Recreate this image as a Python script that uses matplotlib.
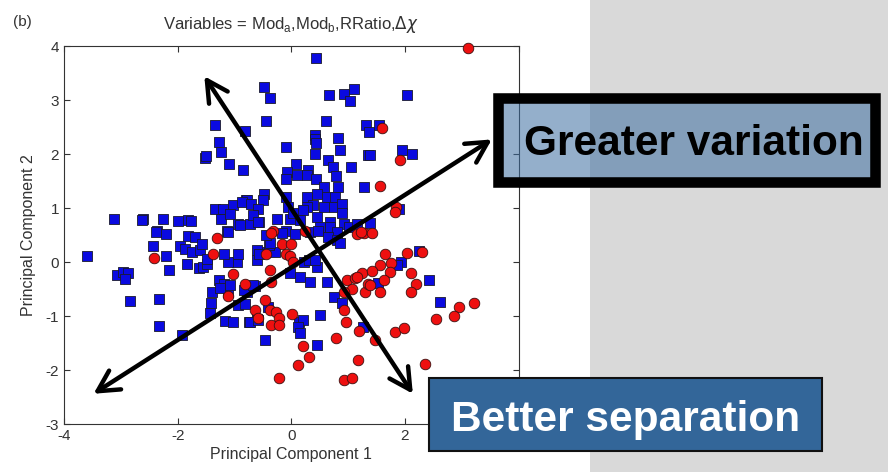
import matplotlib
matplotlib.use("Agg")
import matplotlib.pyplot as plt
from matplotlib.patches import Rectangle

plt.rcParams['font.family'] = ['Liberation Sans', 'DejaVu Sans']
plt.rcParams['axes.unicode_minus'] = False

# principal component scores, group 1 (squares)
pc1_blue = [-0.48, -0.38, -0.45, -1.35, -0.81, -1.27, -1.24, -1.51, -1.50, -1.10,
            -0.85, -0.09, 0.09, -0.08, -0.10, -0.48, -0.50, -0.80, -0.09, -0.06,
            -3.12, -2.61, -2.63, -2.26, -1.99, -1.81, -1.77, -1.35, -1.20, -1.02,
            -0.78, -1.24, -1.08, -0.93, -0.72, -0.56, -0.25, -0.03, -2.37, -2.20,
            -1.13, 0.44, 0.66, 0.92, 1.11, 1.04, 0.61, 1.32, 1.36, 1.54,
            0.41, 0.42, 0.44, 0.82, 0.86, 0.41, 1.35, 0.64, 0.73, 1.06,
            0.29, 0.28, 0.44, 0.79, 0.82, 0.58, 1.28, 0.11, 0.28, 0.45,
            0.63, 0.77, 0.39, 0.57, 0.28, 0.75, 0.89, 0.03, 0.21, 0.15,
            0.45, 0.51, 0.69, 0.89, 0.92, -0.87, -0.70, -0.59, -0.68, -0.59,
            -0.90, -1.11, -0.09, 0.06, 0.33, 0.69, 0.81, 1.01, 1.16, 2.04,
            1.39, 1.95, 2.13, 1.89, 1.39, -3.60, -3.07, -2.96, -2.87, -2.93,
            -2.84, -2.33, -2.33, -1.93, -2.44, -2.20, -2.15, -2.38, -1.81, -1.70,
            -1.96, -1.87, -1.75, -1.61, -1.84, -1.63, -1.55, -1.49, -1.57, -1.49,
            -1.27, -1.40, -1.42, -1.43, -1.11, -0.93, -0.81, -0.78, -0.64, -1.17,
            -1.02, -0.75, -0.61, -0.47, -0.61, -0.47, -0.29, -0.96, -1.11, -1.19,
            -0.93, -0.61, -0.56, -0.40, -0.38, -0.03, 0.15, 0.33, 0.63, 0.23,
            0.32, 0.45, 0.42, 0.51, 0.14, 0.21, 0.12, 0.15, 0.46, 0.76,
            0.89, 1.27, -0.84, -0.67, -0.73, -0.58, -0.41, 1.93, 1.86, 2.25,
            2.42, 1.52, 2.61, -0.44, -0.17, 0.47, 0.65, 0.80, 0.86, -1.19,
            -1.08, -1.26]
pc2_blue = [3.24, 3.04, 2.62, 2.54, 2.43, 2.22, 2.03, 1.92, 1.96, 1.81,
            1.70, 2.13, 1.81, 1.67, 1.53, 1.26, 1.14, 1.15, 1.21, 1.02,
            0.80, 0.80, 0.77, 0.79, 0.76, 0.77, 0.76, 0.99, 0.99, 1.05,
            1.14, 0.80, 0.89, 0.71, 0.70, 0.74, 0.80, 0.80, 0.58, 0.52,
            0.58, 3.77, 3.09, 3.11, 3.20, 2.99, 2.62, 2.53, 2.41, 2.54,
            2.35, 2.27, 2.20, 2.29, 2.08, 2.00, 1.98, 1.89, 1.76, 1.76,
            1.71, 1.61, 1.54, 1.59, 1.39, 1.39, 1.39, 1.62, 1.21, 1.26,
            1.20, 1.20, 1.05, 1.02, 1.02, 1.02, 1.08, 0.90, 0.96, 0.77,
            0.83, 0.65, 0.74, 0.90, 0.71, 1.11, 1.08, 0.99, 0.87, 0.74,
            0.68, 0.55, 0.58, 0.52, 0.55, 0.65, 0.55, 0.65, 0.71, 3.09,
            1.98, 2.08, 2.00, 0.99, 0.73, 0.12, -0.24, -0.18, -0.20, -0.32,
            -0.72, -0.69, -1.19, -1.35, 0.29, 0.12, -0.14, 0.55, 0.49, 0.46,
            0.29, 0.25, 0.18, 0.22, -0.03, -0.12, -0.09, -0.03, 0.34, 0.06,
            -0.34, -0.55, -0.76, -0.95, -0.55, -0.80, -0.77, -0.55, -0.45, -1.09,
            -1.12, -1.11, -1.06, -1.45, 0.03, 0.18, 0.18, 0.00, 0.00, 0.15,
            0.14, 0.22, 0.14, 0.31, 0.36, -0.21, -0.28, -0.37, -0.37, 0.00,
            0.03, -0.09, 0.04, -0.99, -1.11, -1.08, -1.20, -1.31, -1.54, -0.64,
            -0.76, -1.20, -0.52, -0.43, -1.11, -1.08, -0.83, 0.00, -0.06, 0.20,
            -0.34, -0.39, -0.74, 0.50, 0.53, 0.58, 0.46, 0.40, 0.36, -0.40,
            -0.43, -0.49]

# principal component scores, group 2 (circles)
pc1_red = [-0.32, -1.31, -2.41, -1.37, -1.02, -1.11, -0.81, -0.47, -0.38, -0.35,
           -0.63, -0.59, -0.38, -0.26, -0.21, -0.35, -0.22, 0.01, -0.21, 0.12,
           -0.45, -0.17, 0.00, -0.09, 0.20, 0.31, 0.78, 1.17, 0.93, 1.07,
           0.96, 1.20, 0.92, 0.98, 1.07, 0.92, 1.13, 1.25, 1.29, 1.35,
           -0.03, 0.03, -0.35, 1.16, 1.28, 0.25, 1.22, 3.11, 1.60, 1.91,
           1.57, 1.85, 1.82, 1.42, 1.65, 2.03, 2.31, 1.75, 1.56, 1.73,
           1.42, 2.10, 1.63, 1.38, 2.19, 1.57, 2.10, 3.22, 2.96, 2.86,
           2.54, 1.82, 1.98, 1.48, 2.36, 1.16]
pc2_red = [0.58, 0.45, 0.08, 0.14, -0.23, -0.63, -0.41, -0.71, -0.14, -0.37,
           -0.89, -1.04, -0.88, -0.92, -1.03, -1.17, -1.17, -0.96, -2.15, -1.91,
           0.14, 0.34, 0.34, 0.15, -1.55, -1.76, -1.41, -1.82, -2.18, -2.15,
           -1.11, -1.27, -0.89, -0.34, -0.50, -0.55, -0.29, -0.20, -0.55, -0.40,
           0.12, 0.00, 0.54, 0.52, 0.53, 0.58, 0.55, 3.96, 2.49, 1.89,
           1.41, 1.02, 0.92, 0.53, 0.14, 0.17, 0.18, -0.02, -0.06, -0.18,
           -0.16, -0.21, -0.34, -0.43, -0.40, -0.55, -0.55, -0.76, -0.84, -1.00,
           -1.06, -1.29, -1.23, -1.44, -1.89, -0.28]

x_ticks = [-4, -2, 0, 2, 4]
x_ticklabels = ['-4', '-2', '0', '2', '']   # the 4 sits under the label box
y_ticks = [-3, -2, -1, 0, 1, 2, 3, 4]

W, H = 888, 472


def fx(px):
    return px / W


def fy(py):
    return 1 - py / H


fig = plt.figure(figsize=(8.88, 4.72), dpi=100)

# grey side panel
fig.patches.append(Rectangle((fx(590), 0), 1 - fx(590), 1, transform=fig.transFigure,
                             facecolor='#d9d9d9', edgecolor='none', zorder=-5))

ax = fig.add_axes([fx(64), fy(424), fx(518.5) - fx(64), fy(46) - fy(424)])
ax.scatter(pc1_blue, pc2_blue, marker='s', s=62, color='#0a0ae0',
           edgecolors='#1a1a2a', linewidths=0.6, zorder=2)
ax.scatter(pc1_red, pc2_red, marker='o', s=58, color='#ee1010',
           edgecolors='#3a1010', linewidths=0.6, zorder=3, clip_on=False)

ax.set_xlim(-4, 4)
ax.set_ylim(-3, 4)
ax.set_xticks(x_ticks)
ax.set_xticklabels(x_ticklabels)
ax.set_yticks(y_ticks)
ax.tick_params(direction='in', top=True, right=True, length=4, labelsize=11,
               colors='#333333', width=0.8)
for sp in ax.spines.values():
    sp.set_color('#333333')
    sp.set_linewidth(0.8)

ax.set_xlabel('Principal Component 1', fontsize=11.5, color='#333333', labelpad=3)
ax.set_ylabel('Principal Component 2', fontsize=11.5, color='#333333', labelpad=7)
ax.set_title(r'Variables = Mod$_{\mathregular{a}}$,Mod$_{\mathregular{b}}$,RRatio,$\Delta\chi$',
             fontsize=12, color='#333333', pad=12)
fig.text(fx(13), fy(22), '(b)', fontsize=11, color='#333333', va='center')

# double-headed arrows
arrow_kw = dict(arrowstyle='<->,head_length=0.75,head_width=0.4', lw=3.2,
                color='black', shrinkA=0, shrinkB=0, mutation_scale=20)
ax.annotate('', xy=(3.53, 2.27), xytext=(-3.48, -2.44), arrowprops=arrow_kw,
            annotation_clip=False)
ax.annotate('', xy=(2.14, -2.44), xytext=(-1.53, 3.44), arrowprops=arrow_kw,
            annotation_clip=False)

# label boxes
fig.patches.append(Rectangle((fx(497.5), fy(181.5)), fx(875) - fx(497.5), fy(97.5) - fy(181.5),
                             transform=fig.transFigure, facecolor=(0.24, 0.43, 0.63, 0.55),
                             edgecolor='black', linewidth=7.6, zorder=5))
fig.text(fx(694), fy(155), 'Greater variation', fontsize=30.5, fontweight='bold',
         color='black', ha='center', va='baseline', zorder=6)

fig.patches.append(Rectangle((fx(429), fy(451)), fx(822) - fx(429), fy(378) - fy(451),
                             transform=fig.transFigure, facecolor='#336699',
                             edgecolor='#111111', linewidth=1.5, zorder=5))
fig.text(fx(626), fy(431.5), 'Better separation', fontsize=30.5, fontweight='bold',
         color='white', ha='center', va='baseline', zorder=6)

fig.savefig('out.png', dpi=100)
